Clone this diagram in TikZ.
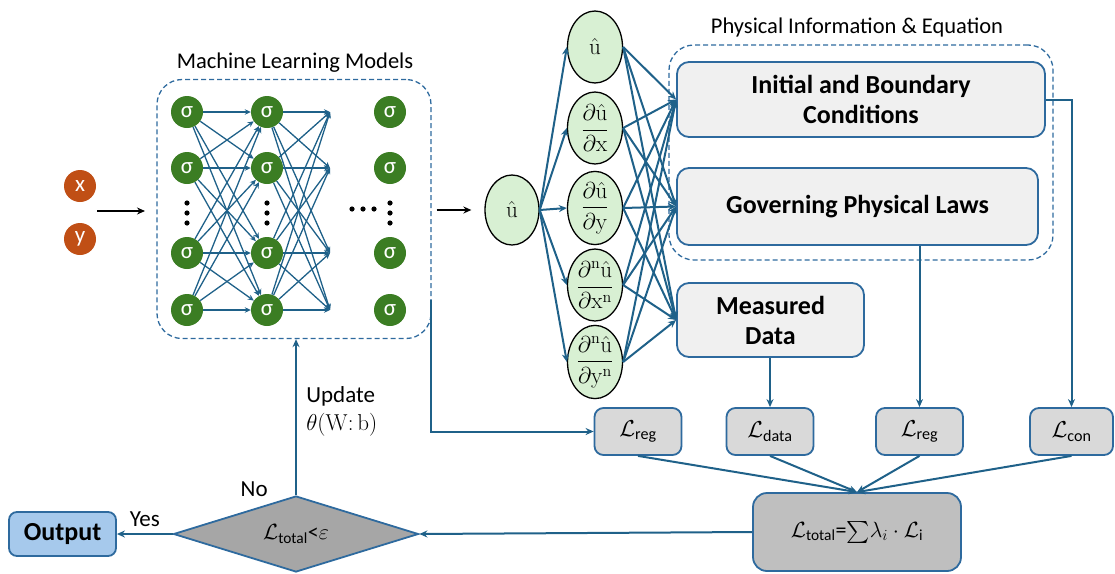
\RequirePackage{fix-cm}
\documentclass[tikz,border=0pt]{standalone}
\usepackage{amsmath,amssymb}
\usepackage[no-math]{fontspec}
\setmainfont{Carlito}
\usepackage{tikz}
\usetikzlibrary{shapes,shapes.geometric,arrows.meta,positioning,calc}
\definecolor{linkblue}{RGB}{31,97,137}
\definecolor{boxblue}{RGB}{46,106,158}
\definecolor{sigmagreen}{RGB}{59,125,35}
\definecolor{inputorange}{RGB}{192,79,21}
\definecolor{derivgreen}{RGB}{216,240,211}
\definecolor{outblue}{RGB}{166,201,236}
\newcommand{\fs}[1]{\fontsize{#1}{#1}\selectfont}

\begin{document}
\begin{tikzpicture}[x=1pt, y=-1pt,
    neuron/.style={circle, fill=sigmagreen, text=white, minimum size=32pt, inner sep=0pt, font=\fs{23}},
    invar/.style={circle, fill=inputorange, text=white, minimum size=32pt, inner sep=0pt, font=\fs{23}},
    deriv/.style={ellipse, draw=black, line width=1.3pt, fill=derivgreen, minimum width=55pt, minimum height=72pt, inner sep=0pt, font=\fs{23}},
    infobox/.style={rectangle, draw=boxblue, line width=1.8pt, rounded corners=12pt, fill=gray!12, font=\fontsize{26}{30}\selectfont\bfseries, align=center},
    lossbox/.style={rectangle, draw=boxblue, line width=1.8pt, rounded corners=9pt, fill=gray!30, font=\fs{23}, minimum width=87pt, minimum height=47pt},
    group/.style={draw=boxblue, line width=1.3pt, dash pattern=on 5pt off 3pt, rounded corners=25pt},
    link/.style={-{Stealth[length=8pt,width=7pt]}, linkblue, line width=2pt},
    mesh/.style={-{Stealth[length=6pt,width=5.5pt]}, linkblue, line width=1.3pt},
    plain/.style={-{Stealth[length=8pt,width=7pt]}, black, line width=1.5pt},
    lbl/.style={text=black, font=\fs{23}}
]
    \useasboundingbox (0,0) rectangle (1115,573);

    % Inputs
    \node[invar] (x) at (80,186) {x};
    \node[invar] (y) at (80,239) {y};
    \coordinate (instart) at (97,211);
    \coordinate (inend) at (145,211);
    \draw[plain] (instart) -- (inend);

    % Machine learning block
    \node[group, minimum width=274pt, minimum height=259pt] (ml) at (294,209) {};
    \node[font=\fs{22.5}] (mltitle) at (295,63) {Machine Learning Models};
    \foreach \c/\xx in {1/187,2/267,3/390}
        \foreach \r/\yy in {1/112,2/168,3/253,4/310}
            \node[neuron] (n\c\r) at (\xx,\yy) {σ};
    \foreach \r/\yy in {1/112,2/168,3/253,4/310}
        \coordinate (e\r) at (330,\yy);
    \foreach \i in {1,...,4}
        \foreach \j in {1,...,4} {
            \draw[mesh] (n1\i) -- (n2\j);
            \draw[mesh] (n2\i) -- (e\j);
        }
    % dots
    \foreach \xx in {187,267,390}
        \foreach \yy in {203,213,223}
            \fill (\xx,\yy) circle (2.6pt);
    \foreach \xx in {352,363,374}
        \fill (\xx,209) circle (2.6pt);

    % Network output and derivatives
    \node[deriv, minimum width=54pt, minimum height=70pt] (uhat) at (512,210) {$\hat{\mathrm{u}}$};
    \node[deriv] (d1) at (595,47) {$\hat{\mathrm{u}}$};
    \node[deriv] (d2) at (595,128) {$\dfrac{\partial\hat{\mathrm{u}}}{\partial\mathrm{x}}$};
    \node[deriv] (d3) at (595,208) {$\dfrac{\partial\hat{\mathrm{u}}}{\partial\mathrm{y}}$};
    \node[deriv] (d4) at (595,285) {$\dfrac{\partial^{\mathrm{n}}\hat{\mathrm{u}}}{\partial\mathrm{x}^{\mathrm{n}}}$};
    \node[deriv] (d5) at (595,362) {$\dfrac{\partial^{\mathrm{n}}\hat{\mathrm{u}}}{\partial\mathrm{y}^{\mathrm{n}}}$};
    \draw[plain, shorten <=5pt, shorten >=13pt] (ml.east |- uhat) -- (uhat.west);
    \foreach \d in {d1,d2,d3,d4,d5}
        \draw[link] (uhat.east) -- (\d.west);

    % Physical information
    \node[group, minimum width=384pt, minimum height=215pt] (phys) at (861,152.5) {};
    \node[font=\fs{22.5}] (phystitle) at (857,27) {Physical Information \& Equation};
    \node[infobox, minimum width=368pt, minimum height=75pt] (ibc) at (861,99.5) {Initial and Boundary\\Conditions};
    \node[infobox, minimum width=361pt, minimum height=77pt] (gpl) at (857.5,206.5) {Governing Physical Laws};
    \node[infobox, minimum width=187pt, minimum height=74pt] (md) at (770.5,320) {Measured\\Data};
    \foreach \d in {d1,d2,d3,d4,d5}
        \foreach \b in {ibc,gpl,md}
            \draw[link] (\d.east) -- (\b.west);

    % Loss terms
    \node[lossbox] (lreg1) at (638,431.5) {$\mathcal{L}_{\text{reg}}$};
    \node[lossbox] (ldata) at (770,431.5) {$\mathcal{L}_{\text{data}}$};
    \node[lossbox] (lreg2) at (919.5,431.5) {$\mathcal{L}_{\text{reg}}$};
    \node[lossbox, minimum width=83pt] (lcon) at (1071.5,431.5) {$\mathcal{L}_{\text{con}}$};
    \node[lossbox, fill=gray!50, font=\fs{22}, rounded corners=14pt, minimum width=208pt, minimum height=78pt] (total) at (857,532) {$\mathcal{L}_{\text{total}}$=$\sum\!\lambda_i\cdot\mathcal{L}_{\text{i}}$};

    \coordinate (mltap) at (431,300);
    \draw[link] (mltap) |- (lreg1.west);
    \draw[link] (ldata.north |- md.south) -- (ldata.north);
    \draw[link] (lreg2.north |- gpl.south) -- (lreg2.north);
    \draw[link] (ibc.east) -| (lcon.north);
    \foreach \l in {lreg1,ldata,lreg2,lcon}
        \draw[link] (\l.south) -- (total.north);

    % Decision and output
    \node[diamond, draw=boxblue, line width=1.8pt, fill=gray!70, aspect=3.2, minimum width=245pt, minimum height=76pt, inner sep=0pt, font=\fs{22}] (dec) at (296,534) {$\mathcal{L}_{\text{total}}$<$\varepsilon$};
    \node[rectangle, draw=boxblue, line width=1.8pt, rounded corners=8pt, fill=outblue, minimum width=107pt, minimum height=44pt, font=\fs{26}\bfseries] (output) at (62.5,534) {Output};
    \draw[link] (total.west) -- (dec.east);
    \draw[link] (dec.west) -- node[lbl, above, yshift=3pt] {Yes} (output.east);
    \draw[link] (dec.north) -- node[lbl, pos=0, above left, xshift=-24pt, yshift=-6pt] {No}
        node[lbl, right, align=left, font=\fontsize{23}{28}\selectfont, xshift=6pt, yshift=6pt] {Update\\$\theta(\mathrm{W}{:}\,\mathrm{b})$} (dec.north |- ml.south);
\end{tikzpicture}
\end{document}
